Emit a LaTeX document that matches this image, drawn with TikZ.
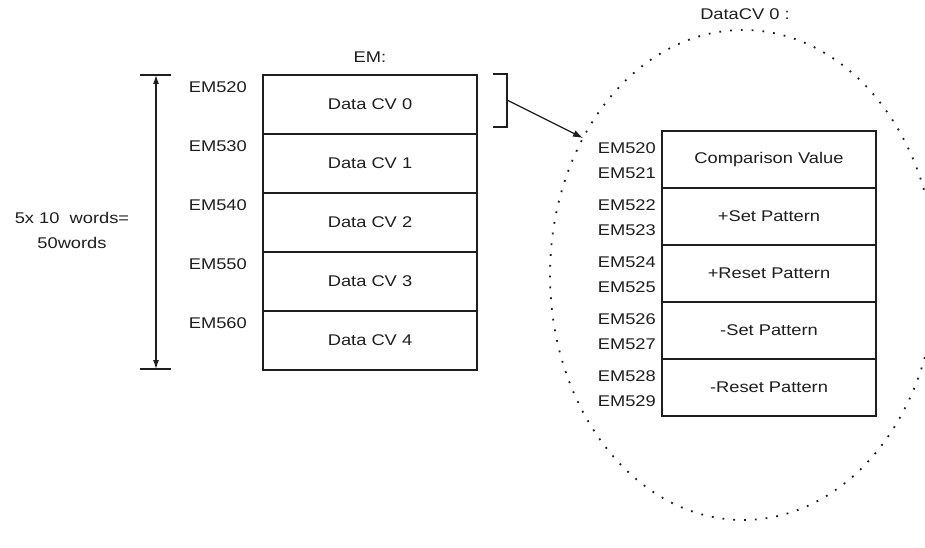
\documentclass[tikz,border=0pt]{standalone}
\usepackage{fontspec}
\setmainfont{Liberation Sans}[FakeStretch=1.18]
\usetikzlibrary{shapes.geometric, arrows.meta}
\definecolor{EMInk}{RGB}{30,30,30}

\begin{document}
\begin{tikzpicture}[x=1pt, y=-1pt,
          lbl/.style={font=\fontsize{15.5}{18}\selectfont, text=EMInk, inner sep=0pt},
          cell/.style={rectangle, draw=EMInk, line width=1.5pt, inner sep=0pt,
                       minimum height=59pt, minimum width=214pt, lbl},
          arr/.style={-{Latex[length=10pt, width=7pt]}, EMInk, line width=1.2pt}
        ]
        \useasboundingbox (0,0) rectangle (925,548);

        % EM area: five data blocks
        \foreach \i in {0,...,4} {
          \pgfmathtruncatemacro\n{2+\i}
          \node[cell] (cv\i) at (370, 104.5+59*\i) {Data CV \i};
          \node[lbl, anchor=east] (em\i) at (247, 87+59*\i) {EM5\n0};
        }
        \node[lbl] (emhead) at (370, 57) {EM:};

        % size arrow
        \coordinate (sztop) at (156, 75);
        \coordinate (szbot) at (156, 369);
        \draw[EMInk, line width=1.5pt] (140, 75) -- (171, 75)
              (140, 369) -- (171, 369);
        \draw[{Latex[length=9pt, width=6pt]}-{Latex[length=9pt, width=6pt]},
              EMInk, line width=1.2pt] (sztop) -- (szbot);
        \node[lbl, align=center] (size) at (72, 230)
              {5x 10\ \ words=\\[7pt]50words};

        % bracket round Data CV 0
        \coordinate (brtop) at (493, 74);
        \coordinate (brbot) at (493, 127);
        \coordinate (brmid) at (507, 100);
        \draw[EMInk, line width=1.5pt] (brtop) -- (507, 74) -- (507, 127) -- (brbot);

        % zoomed view of Data CV 0
        \node[ellipse, draw=EMInk, line width=1.8pt,
              dash pattern=on 1.8pt off 9pt,
              minimum width=386pt, minimum height=490pt] (zoom) at (743, 275) {};
        \node[lbl] (zoomhead) at (745, 14) {DataCV 0 :};
        \coordinate (hit) at (583, 138);
        \draw[arr] (brmid) -- (hit);

        \foreach \i/\t in {0/Comparison Value, 1/+Set Pattern,
                           2/+Reset Pattern, 3/-Set Pattern, 4/-Reset Pattern} {
          \pgfmathtruncatemacro\lo{2*\i}
          \pgfmathtruncatemacro\hi{2*\i+1}
          \node[cell, minimum height=57pt]
                (pt\i) at (769, 159.5+57*\i) {\t};
          \node[lbl, anchor=east] (ema\i) at (656, 148+57*\i) {EM52\lo};
          \node[lbl, anchor=east] (emb\i) at (656, 173+57*\i) {EM52\hi};
        }
      \end{tikzpicture}
\end{document}
